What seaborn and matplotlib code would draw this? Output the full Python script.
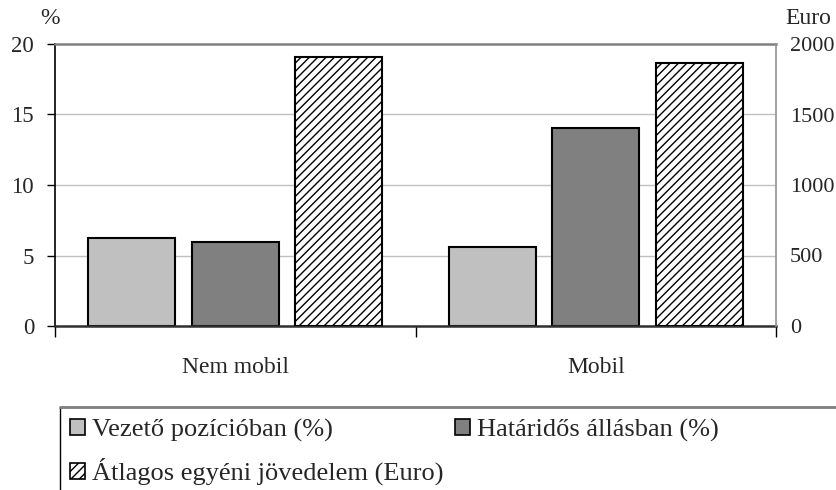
import pandas as pd
import matplotlib
matplotlib.use('Agg')
import matplotlib.pyplot as plt
from matplotlib.patches import Patch, Rectangle
from matplotlib.lines import Line2D
import seaborn as sns

# adatok a diagramrol
csoportok = ['Nem mobil', 'Mobil']
sorozatok = ['Vezető pozícióban (%)', 'Határidős állásban (%)', 'Átlagos egyéni jövedelem (Euro)']
vezeto = [6.25, 5.6]
hataridos = [5.95, 14.05]
jovedelem = [1910, 1868]

sns.set_theme(style='white')
plt.rcParams['font.family'] = ['Liberation Serif', 'DejaVu Serif']
plt.rcParams['hatch.linewidth'] = 1.0
plt.rcParams['hatch.color'] = 'black'

szinek = {sorozatok[0]: '#c0c0c0', sorozatok[1]: '#808080', sorozatok[2]: 'white'}

# a masik tengelyhez tartozo sorozat 0 ertekkel all, hogy a csoportositas megmaradjon
df_pct = pd.DataFrame({
    'csoport': csoportok * 3,
    'sorozat': [s for s in sorozatok for _ in csoportok],
    'ertek': vezeto + hataridos + [0, 0],
})
df_eur = pd.DataFrame({
    'csoport': csoportok * 3,
    'sorozat': [s for s in sorozatok for _ in csoportok],
    'ertek': [0, 0, 0, 0] + jovedelem,
})

fig, ax = plt.subplots(figsize=(8.36, 4.9), dpi=100)
fig.subplots_adjust(left=55/836, right=776/836, top=1-44/490, bottom=1-326/490)

sns.barplot(data=df_pct, x='csoport', y='ertek', hue='sorozat', hue_order=sorozatok,
            order=csoportok, palette=szinek, width=0.862, gap=0.16,
            edgecolor='black', linewidth=1.5, legend=False, ax=ax)

ax2 = ax.twinx()
sns.barplot(data=df_eur, x='csoport', y='ertek', hue='sorozat', hue_order=sorozatok,
            order=csoportok, palette=szinek, width=0.862, gap=0.16,
            edgecolor='black', linewidth=1.5, legend=False, ax=ax2)
for p in ax.patches:
    if p.get_height() == 0:
        p.set_visible(False)
for p in ax2.patches:
    if p.get_height() == 0:
        p.set_visible(False)
    else:
        p.set_hatch('////')

ax.set_ylim(0, 20)
ax2.set_ylim(0, 2000)
ax.set_xlim(-0.5, 1.5)
ax.set_yticks([0, 5, 10, 15, 20])
ax2.set_yticks([0, 500, 1000, 1500, 2000])
ax.set_xlabel('')
ax.set_ylabel('')
ax2.set_ylabel('')

ax.yaxis.grid(True, color='#c0c0c0', linewidth=1)
ax.set_axisbelow(True)

ax.spines['left'].set_color('black')
ax.spines['left'].set_linewidth(1.2)
ax.spines['bottom'].set_linewidth(1.8)
ax.spines['bottom'].set_color('#303030')
ax.spines['top'].set_color('#808080')
ax.spines['top'].set_linewidth(1.8)
ax.spines['right'].set_visible(False)
for s in ['left', 'top', 'bottom']:
    ax2.spines[s].set_visible(False)
ax2.spines['right'].set_color('#909090')
ax2.spines['right'].set_linewidth(1.2)

ax.tick_params(axis='y', which='major', direction='out', length=6, width=1,
               color='black', labelsize=16.5, pad=9, left=True)
ax2.tick_params(axis='y', direction='out', length=0, labelsize=16, pad=10)
ax.set_xticks([0, 1])
ax.set_xticklabels(csoportok)
ax.set_xticks([-0.5, 0.5, 1.5], minor=True)
ax.tick_params(axis='x', which='major', length=0, labelsize=17, pad=22)
ax.tick_params(axis='x', which='minor', direction='out', length=8, width=1,
               color='black', bottom=True)

fig.text(40/836, 1-19/490, '%', fontsize=17, ha='left', va='center')
fig.text(785/836, 1-19/490, 'Euro', fontsize=17, ha='left', va='center')

# jelmagyarazat keret
fig.add_artist(Rectangle((60/836, -0.1), 1.0, 1-407/490+0.1, transform=fig.transFigure,
                         facecolor='none', edgecolor='black', linewidth=1))
fig.add_artist(Line2D([60/836, 1.0], [1-407/490, 1-407/490], transform=fig.transFigure,
                      color='#808080', linewidth=2))

kezelok = [Patch(facecolor=szinek[s], edgecolor='black', linewidth=1.2,
                 hatch='////' if i == 2 else None) for i, s in enumerate(sorozatok)]
sorrend = [0, 2, 1]
fig.legend([kezelok[i] for i in sorrend], [sorozatok[i] for i in sorrend],
           loc='upper left', bbox_to_anchor=(70/836, 1-419/490),
           ncol=2, frameon=False, fontsize=19, handlelength=0.55, handleheight=0.55,
           handletextpad=0.27, columnspacing=0.45, labelspacing=0.6,
           borderaxespad=0, borderpad=0)

fig.savefig('out.png', dpi=100)
